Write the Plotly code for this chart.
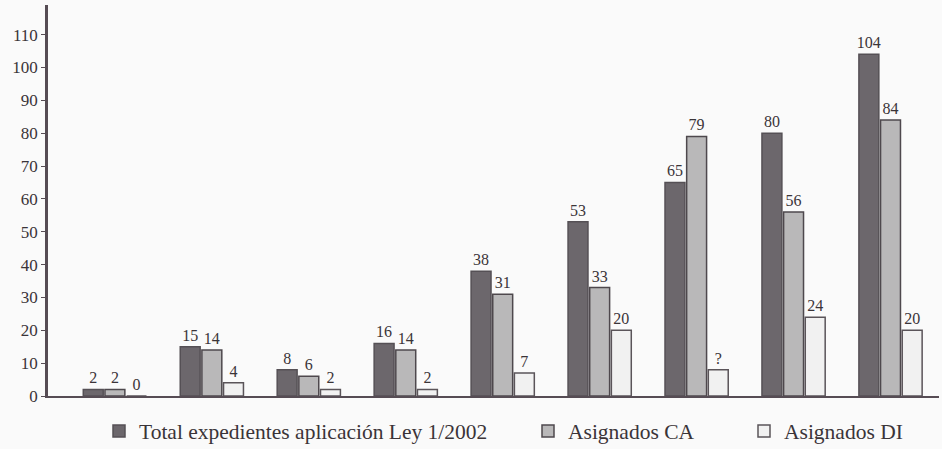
import plotly.graph_objects as go

# Nine periods, three series per period
groups = ["1", "2", "3", "4", "5", "6", "7", "8", "9"]
total_exp = [2, 15, 8, 16, 38, 53, 65, 80, 104]
asig_ca = [2, 14, 6, 14, 31, 33, 79, 56, 84]
asig_di = [0, 4, 2, 2, 7, 20, 8, 24, 20]
di_labels = ["0", "4", "2", "2", "7", "20", "?", "24", "20"]

y_ticks = list(range(0, 111, 10))

SERIF = "Liberation Serif"
INK = "#3a3438"
AXIS = "#564c54"

fig = go.Figure()

series = [
    ("Total expedientes aplicación Ley 1/2002", total_exp,
     [str(v) for v in total_exp], "#6c676c", "#555055", "legend"),
    ("Asignados CA", asig_ca, [str(v) for v in asig_ca],
     "#b9b8b9", "#4e484d", "legend2"),
    ("Asignados DI", asig_di, di_labels, "#f1f1f1", "#5a5459", "legend3"),
]

for name, vals, labels, fill, edge, leg in series:
    fig.add_trace(go.Bar(
        x=groups, y=vals, name=name,
        text=labels, textposition="outside", constraintext="none",
        textfont=dict(family=SERIF, size=16, color=INK),
        cliponaxis=False,
        marker=dict(color=fill, line=dict(color=edge, width=1.5)),
        legend=leg,
    ))

leg_common = dict(
    orientation="h", xref="container", yref="container",
    yanchor="middle", y=0.04, xanchor="left",
    font=dict(family=SERIF, size=21.5, color=INK),
    bgcolor="rgba(0,0,0,0)",
)

fig.update_layout(
    width=942, height=449,
    margin=dict(l=48, r=3, t=5, b=53),
    paper_bgcolor="#fafafa", plot_bgcolor="#fafafa",
    barmode="group", bargap=0.33, bargroupgap=0.08,
    showlegend=True,
    legend=dict(leg_common, x=99 / 942),
    legend2=dict(leg_common, x=528 / 942),
    legend3=dict(leg_common, x=744 / 942),
    xaxis=dict(
        type="category", range=[-0.69, 8.5],
        showticklabels=False, ticks="", showgrid=False, zeroline=False,
        showline=True, linecolor=AXIS, linewidth=2,
    ),
    yaxis=dict(
        range=[0, 119], tickvals=y_ticks, showgrid=False, zeroline=False,
        showline=True, linecolor=AXIS, linewidth=2.5,
        ticks="outside", ticklen=4, tickcolor=AXIS, tickwidth=1,
        tickfont=dict(family=SERIF, size=17, color=INK),
    ),
)

fig.write_html("out.html")
